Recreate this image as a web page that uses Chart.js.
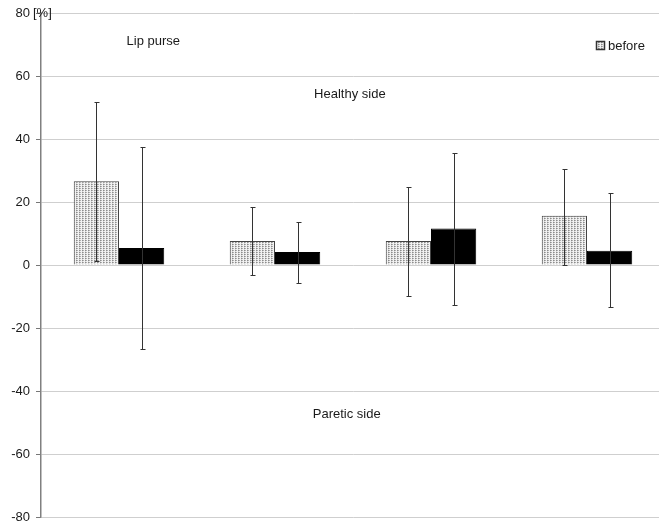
<!DOCTYPE html>
<html lang="en">
<head>
  <meta charset="UTF-8" />
  <title>Lip purse</title>
  <script src="https://cdn.jsdelivr.net/npm/chart.js"></script>
  <style>
    body { margin: 0; background: #fff; overflow: hidden; }
    #wrap { width: 659px; height: 526px; overflow: hidden; }
  </style>
</head>
<body>
  <div id="wrap"><canvas id="c" width="665" height="526"></canvas></div>
  <script>
    // data
    const categories = ['1', '2', '3', '4'];
    const beforeVals = [26.6, 7.6, 7.6, 15.6];
    const beforeHi = [51.8, 18.5, 24.7, 30.6];
    const beforeLo = [1.2, -3.2, -9.7, 0];
    const afterVals = [5.4, 4.1, 11.6, 4.5];
    const afterHi = [37.6, 13.6, 35.5, 22.8];
    const afterLo = [-26.7, -5.7, -12.6, -13.2];
    const yTicks = [-80, -60, -40, -20, 0, 20, 40, 60, 80];
    const notes = [
      { text: 'Lip purse', x: 0.22, y: 71 },
      { text: 'Healthy side', x: 1.48, y: 54 },
      { text: 'Paretic side', x: 1.46, y: -47.5 }
    ];

    const FONT = '13px "Liberation Sans", Arial, sans-serif';

    // dotted fill like the print
    const tile = document.createElement('canvas');
    tile.width = 3; tile.height = 2;
    const tc = tile.getContext('2d');
    tc.fillStyle = '#f2f2f2';
    tc.fillRect(0, 0, 3, 2);
    tc.fillStyle = '#8c8c8c';
    tc.fillRect(1, 0, 1, 1);
    tc.fillStyle = '#b0b0b0';
    tc.fillRect(2, 0, 1, 1);
    tc.fillStyle = '#d8d8d8';
    tc.fillRect(1, 1, 1, 1);
    const ctx = document.getElementById('c').getContext('2d');
    const dots = ctx.createPattern(tile, 'repeat');

    const errs = [[beforeHi, beforeLo], [afterHi, afterLo]];

    const extras = {
      id: 'extras',
      afterDatasetsDraw(chart) {
        const c = chart.ctx;
        const y = chart.scales.y;
        const x = chart.scales.x;
        // error bars
        c.save();
        c.strokeStyle = '#333';
        c.lineWidth = 1;
        errs.forEach((pair, di) => {
          chart.getDatasetMeta(di).data.forEach((bar, i) => {
            const px = Math.round(bar.x) + 0.5;
            const top = Math.round(y.getPixelForValue(pair[0][i])) + 0.5;
            const bot = Math.round(y.getPixelForValue(pair[1][i])) + 0.5;
            c.beginPath();
            c.moveTo(px, top); c.lineTo(px, bot);
            c.moveTo(px - 2, top); c.lineTo(px + 3, top);
            c.moveTo(px - 2, bot); c.lineTo(px + 3, bot);
            c.stroke();
          });
        });
        // annotations
        c.fillStyle = '#1a1a1a';
        c.font = FONT;
        c.textAlign = 'center';
        c.textBaseline = 'middle';
        notes.forEach(n => {
          c.fillText(n.text, x.getPixelForValue(n.x), y.getPixelForValue(n.y));
        });
        // unit after the top tick
        c.textAlign = 'left';
        c.fillText('[%]', 33, y.getPixelForValue(80));
        // legend (only "before" is visible in the figure)
        const ds = chart.data.datasets[0];
        c.fillStyle = ds.backgroundColor;
        c.fillRect(596, 41, 9, 9);
        c.strokeStyle = '#333';
        c.lineWidth = 1.5;
        c.strokeRect(596.5, 41.5, 8, 8);
        c.fillStyle = '#1a1a1a';
        c.fillText(ds.label, 608, 46);
        c.restore();
      }
    };

    new Chart(ctx, {
      type: 'bar',
      data: {
        labels: categories,
        datasets: [
          { label: 'before', data: beforeVals, backgroundColor: dots, borderColor: '#444', borderWidth: 1 },
          { label: 'after', data: afterVals, backgroundColor: '#000', borderColor: '#000', borderWidth: 1 }
        ]
      },
      options: {
        responsive: false,
        animation: false,
        layout: { padding: { top: 13, bottom: 9, left: 0, right: 0 } },
        plugins: { legend: { display: false }, tooltip: { enabled: false } },
        datasets: { bar: { barPercentage: 1, categoryPercentage: 0.58 } },
        scales: {
          x: { display: false },
          y: {
            min: -80, max: 80,
            afterBuildTicks(axis) { axis.ticks = yTicks.map(v => ({ value: v })); },
            afterFit(axis) {
              axis.width = 41;
              axis.paddingTop = 0;
              axis.paddingBottom = 0;
            },
            ticks: {
              color: '#1a1a1a',
              padding: 6,
              font: { size: 13, family: '"Liberation Sans", Arial, sans-serif' }
            },
            grid: { color: '#cfcfcf', lineWidth: 1, tickLength: 5, tickColor: '#777' },
            border: { color: '#808080', width: 1.5 }
          }
        }
      },
      plugins: [extras]
    });
  </script>
</body>
</html>
